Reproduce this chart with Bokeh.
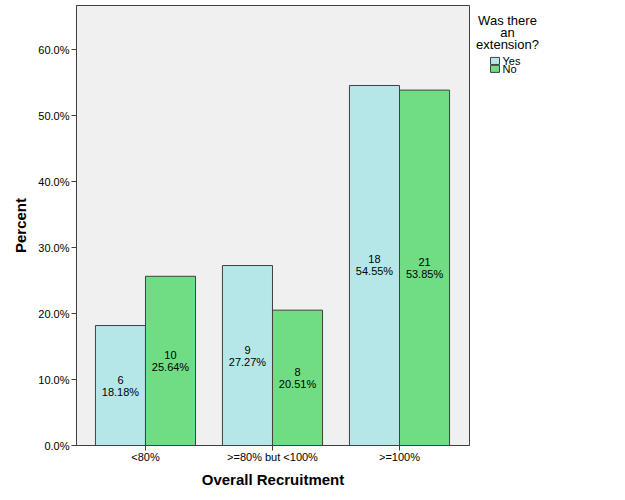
from bokeh.plotting import figure
from bokeh.layouts import row
from bokeh.models import Range1d, FixedTicker, PrintfTickFormatter
from bokeh.embed import file_html
from bokeh.resources import INLINE
from bokeh.core.properties import value

categories = ["<80%", ">=80% but <100%", ">=100%"]
yes_pct = [18.18, 27.27, 54.55]
no_pct = [25.64, 20.51, 53.85]
yes_cnt = [6, 9, 18]
no_cnt = [10, 8, 21]
y_ticks = [0, 10, 20, 30, 40, 50, 60]
legend_title = ["Was there", "an", "extension?"]
series_names = ["Yes", "No"]

YES_C = "#b5e7e8"
NO_C = "#70dc84"
EDGE = "#404040"
FONT = "Liberation Sans"

W, H = 470, 500
L, R, T, B = 76, 1, 5, 55
x0, x1 = -0.543, 2.551
y0, y1 = 0, 66.67

p = figure(width=W, height=H, x_range=Range1d(x0, x1), y_range=Range1d(y0, y1),
           output_backend="svg", toolbar_location=None,
           min_border_left=L, min_border_right=R, min_border_top=T, min_border_bottom=B,
           background_fill_color="#f0f0f0", border_fill_color="white")
p.outline_line_color = EDGE
p.outline_line_width = 1
p.grid.visible = False

bw = 0.394
idx = list(range(len(categories)))
xy = [i - bw / 2 for i in idx]
xn = [i + bw / 2 for i in idx]
p.vbar(x=xy, top=yes_pct, width=bw, fill_color=YES_C, line_color=EDGE, line_width=1)
p.vbar(x=xn, top=no_pct, width=bw, fill_color=NO_C, line_color=EDGE, line_width=1)

lab_y = [f"{c}\n{v:.2f}%" for c, v in zip(yes_cnt, yes_pct)]
lab_n = [f"{c}\n{v:.2f}%" for c, v in zip(no_cnt, no_pct)]
for xs, vals, labs in ((xy, yes_pct, lab_y), (xn, no_pct, lab_n)):
    p.text(x=xs, y=[v / 2 for v in vals], text=labs, text_align="center",
           text_baseline="middle", text_font=value(FONT), text_font_size="11px",
           text_color="black", text_line_height=1.0)

# axes
yax = p.yaxis[0]
yax.ticker = FixedTicker(ticks=y_ticks)
yax.formatter = PrintfTickFormatter(format="%.1f%%")
yax.axis_label = "Percent"
yax.axis_label_text_font = FONT
yax.axis_label_text_font_style = "bold"
yax.axis_label_text_font_size = "15px"
yax.axis_label_text_color = "black"
yax.axis_label_standoff = 6
yax.major_label_text_font = FONT
yax.major_label_text_font_size = "11px"
yax.major_label_text_color = "black"
yax.major_label_standoff = 2
yax.major_tick_out = 5
yax.major_tick_in = 0
yax.minor_tick_line_color = None
yax.axis_line_color = EDGE
yax.major_tick_line_color = EDGE

xax = p.xaxis[0]
xax.ticker = FixedTicker(ticks=idx)
xax.major_label_overrides = {i: c for i, c in zip(idx, categories)}
xax.axis_label = "Overall Recruitment"
xax.axis_label_text_font = FONT
xax.axis_label_text_font_style = "bold"
xax.axis_label_text_font_size = "15px"
xax.axis_label_text_color = "black"
xax.axis_label_standoff = 5
xax.major_label_text_font = FONT
xax.major_label_text_font_size = "11px"
xax.major_label_text_color = "black"
xax.major_label_standoff = 0
xax.major_tick_out = 5
xax.major_tick_in = 0
xax.minor_tick_line_color = None
xax.axis_line_color = EDGE
xax.major_tick_line_color = EDGE

# legend panel: a separate axis-less figure whose ranges are in page pixels
LW = 625 - W
lg = figure(width=LW, height=H, x_range=Range1d(W, 625), y_range=Range1d(H, 0),
            output_backend="svg", toolbar_location=None, min_border=0,
            background_fill_color="white", border_fill_color="white")
lg.axis.visible = False
lg.grid.visible = False
lg.outline_line_color = None

title_x = [507] * len(legend_title)
title_y = [17, 31, 44]
lg.text(x=title_x, y=title_y, text=legend_title, text_align="center",
        text_baseline="middle", text_font=value(FONT), text_font_size="13px",
        text_color="black")
sw_top = [59 + k * 9 for k in range(len(series_names))]
lg.quad(left=[490] * 2, right=[499] * 2, top=sw_top, bottom=[t + 8 for t in sw_top],
        fill_color=[YES_C, NO_C], line_color=EDGE, line_width=1)
lg.text(x=[502] * 2, y=[t + 4 for t in sw_top], text=series_names, text_align="left",
        text_baseline="middle", text_font=value(FONT), text_font_size="11px",
        text_color="black")

layout = row(p, lg, spacing=0)
open("out.html", "w").write(file_html(layout, INLINE))
